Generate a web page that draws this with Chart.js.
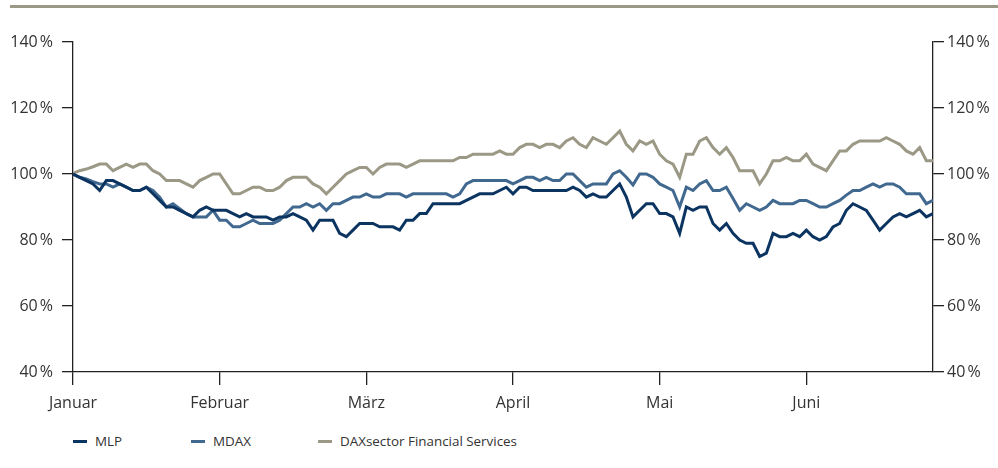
<!DOCTYPE html>
<html>
<head>
<meta charset="utf-8">
<script src="https://cdn.jsdelivr.net/npm/chart.js@4/dist/chart.umd.min.js"></script>
<style>
  body { margin: 0; background: #fff; font-family: "Open Sans", sans-serif; }
  #wrap { position: relative; width: 998px; height: 468px; overflow: hidden; }
  #rule { position: absolute; left: 10px; right: 0; top: 5px; height: 3px; background: #9b9885; }
  #c { position: absolute; left: 0; top: 0; }
  #legend { position: absolute; top: 432px; left: 0; font-size: 13.4px; color: #333; }
  .item { position: absolute; white-space: nowrap; line-height: 18px; }
  .item span.sw { display: inline-block; width: 14px; height: 3px; vertical-align: middle; margin-right: 8px; position: relative; top: -1px; }
</style>
</head>
<body>
<div id="wrap">
  <div id="rule"></div>
  <canvas id="c" width="998" height="420"></canvas>
  <div id="legend"></div>
</div>
<script>
// month labels and where they start (trading-day index)
const monthNames = ['Januar', 'Februar', 'März', 'April', 'Mai', 'Juni'];
const monthIdx = [0, 22, 44, 66, 88, 110];
const yTicks = [40, 60, 80, 100, 120, 140];

const seriesNames = ['MLP', 'MDAX', 'DAXsector Financial Services'];
const seriesColors = ['#0b3461', '#41698f', '#9b9885'];

const mlp = [100, 99, 98, 97, 95, 98, 98, 97, 96, 95, 95, 96, 94, 92, 90, 90, 89, 88, 87, 89,
  90, 89, 89, 89, 88, 87, 88, 87, 87, 87, 86, 87, 87, 88, 87, 86, 83, 86, 86, 86,
  82, 81, 83, 85, 85, 85, 84, 84, 84, 83, 86, 86, 88, 88, 91, 91, 91, 91, 91, 92,
  93, 94, 94, 94, 95, 96, 94, 96, 96, 95, 95, 95, 95, 95, 95, 96, 95, 93, 94, 93,
  93, 95, 97, 93, 87, 89, 91, 91, 88, 88, 87, 82, 90, 89, 90, 90, 85, 83, 85, 82,
  80, 79, 79, 75, 76, 82, 81, 81, 82, 81, 83, 81, 80, 81, 84, 85, 89, 91, 90, 89,
  86, 83, 85, 87, 88, 87, 88, 89, 87, 88];

const mdax = [100, 99, 98.5, 97.7, 97, 97, 96, 97, 96, 95, 95, 96, 95, 93, 90, 91, 89.5, 88, 87, 87,
  87, 89, 86, 86, 84, 84, 85, 86, 85, 85, 85, 86, 88, 90, 90, 91, 90, 91, 89, 91,
  91, 92, 93, 93, 94, 93, 93, 94, 94, 94, 93, 94, 94, 94, 94, 94, 94, 93, 94, 97,
  98, 98, 98, 98, 98, 98, 97, 98, 99, 99, 98, 99, 98, 98, 100, 100, 98, 96, 97, 97,
  97, 100, 101, 99, 96.7, 100, 100, 99, 97, 96, 95, 90, 96, 95, 97, 98, 95, 95, 96, 92.6,
  89, 91, 90, 89, 90, 92, 91, 91, 91, 92, 92, 91, 90, 90, 91, 92, 93.6, 95, 95, 96,
  97, 96, 97, 97, 96, 94, 94, 94, 91, 92];

const daxFin = [100.2, 101, 101.5, 102.2, 103, 103, 101, 102, 103, 102, 103, 103, 101, 100, 98, 98, 98, 97, 96, 98,
  99, 100, 100, 97, 94, 94, 95, 96, 96, 95, 95, 96, 98, 99, 99, 99, 97, 96, 94, 96,
  98, 100, 101, 102, 102, 100, 102, 103, 103, 103, 102, 103, 104, 104, 104, 104, 104, 104, 105, 105,
  106, 106, 106, 106, 107, 106, 106, 108, 109, 109, 108, 109, 109, 108, 110, 111, 109, 108, 111, 110,
  109, 111, 113, 109, 107, 110, 109, 110, 106, 104, 103, 99, 106, 106, 110, 111, 108, 106, 108, 105,
  101, 101, 101, 97, 100, 104, 104, 105, 104, 104, 106, 103, 102, 101, 104, 107, 107, 109, 110, 110,
  110, 110, 111, 110, 109, 107, 106, 108, 104, 104];

const allSeries = [mlp, mdax, daxFin];

function toPoints(arr) {
  return arr.map(function(v, i) { return { x: i, y: v }; });
}

const axisColor = '#222';
const textColor = '#333';

function yAxis(position, width, pad) {
  return {
    type: 'linear',
    position: position,
    min: 40,
    max: 140,
    afterBuildTicks: function(s) { s.ticks = yTicks.map(function(v) { return { value: v }; }); },
    afterFit: function(s) { s.width = width; },
    border: { display: true, color: axisColor, width: 1.3 },
    grid: { drawOnChartArea: false, drawTicks: true, tickLength: 11, color: axisColor, lineWidth: 1.3 },
    ticks: {
      color: textColor,
      padding: pad,
      font: { family: 'Open Sans', size: 16 },
      callback: function(v) { return v + '\u202F%'; }
    }
  };
}

const ctx = document.getElementById('c');
const chart = new Chart(ctx, {
  type: 'line',
  data: {
    datasets: allSeries.map(function(arr, k) {
      return {
        label: seriesNames[k],
        data: toPoints(arr),
        borderColor: seriesColors[k],
        borderWidth: 3,
        pointRadius: 0,
        tension: 0,
        yAxisID: 'y'
      };
    })
  },
  options: {
    responsive: false,
    animation: false,
    devicePixelRatio: 1,
    layout: { padding: { top: 42, left: 0, right: 0, bottom: 0 } },
    plugins: { legend: { display: false }, tooltip: { enabled: false } },
    scales: {
      x: {
        type: 'linear',
        min: 0,
        max: mlp.length - 1,
        afterBuildTicks: function(s) { s.ticks = monthIdx.map(function(v) { return { value: v }; }); },
        afterFit: function(s) { s.height = 48; },
        border: { display: true, color: axisColor, width: 1.3 },
        grid: { drawOnChartArea: false, drawTicks: true, tickLength: 13, color: axisColor, lineWidth: 1.3 },
        ticks: {
          color: textColor,
          padding: 9,
          maxRotation: 0,
          font: { family: 'Open Sans', size: 16 },
          callback: function(v, i) { return monthNames[i]; }
        }
      },
      y: yAxis('left', 73, 9),
      y2: yAxis('right', 65, 3)
    }
  }
});

// legend
const lg = document.getElementById('legend');
const legendX = [73, 191, 318];
seriesNames.forEach(function(name, k) {
  const d = document.createElement('div');
  d.className = 'item';
  d.style.left = legendX[k] + 'px';
  d.innerHTML = '<span class="sw" style="background:' + seriesColors[k] + '"></span>' + name;
  lg.appendChild(d);
});
</script>
</body>
</html>
